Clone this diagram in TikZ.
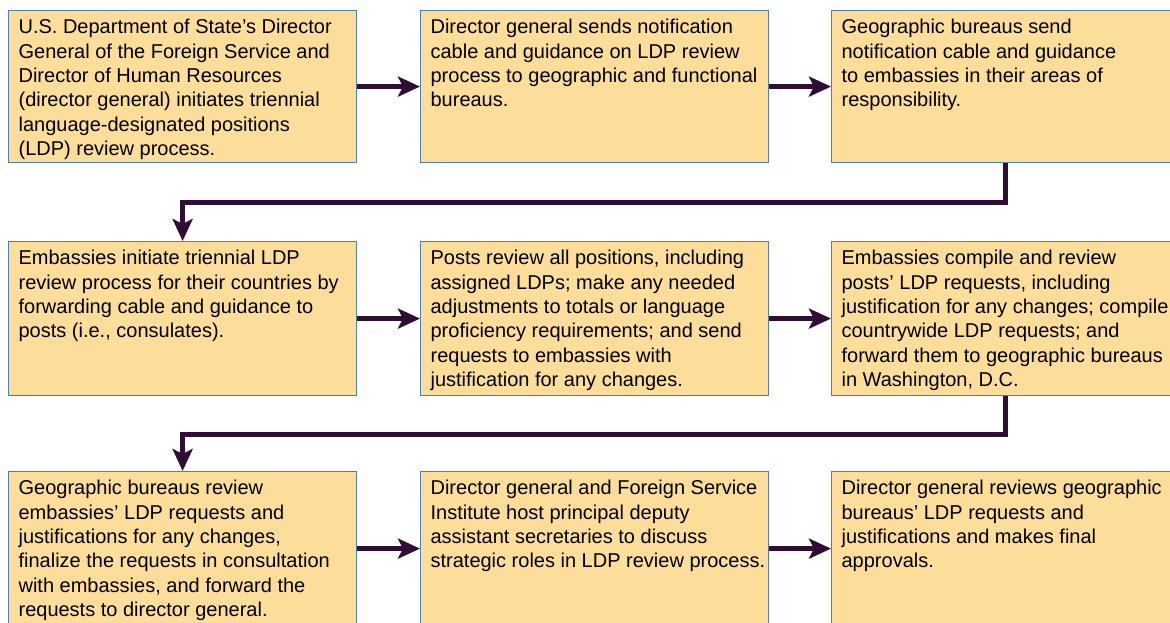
\documentclass[tikz,border=0pt]{standalone}
\usepackage{fontspec}
\setmainfont{Liberation Sans}
\usetikzlibrary{arrows.meta}
\definecolor{boxfill}{HTML}{FCDE9A}
\definecolor{boxline}{HTML}{4F7FAE}
\definecolor{arrowline}{HTML}{2F0D35}
\newcommand{\stagetext}[2]{\parbox[c][#1][t]{348pt}{\raggedright\leftskip=10pt\vspace*{6pt}\strut#2}}
\begin{document}
\begin{tikzpicture}
        [x=1pt, y=-1pt,
        stage/.style={rectangle,draw=boxline,fill=boxfill,line width=1.2pt,inner sep=0pt,
          anchor=north west,minimum width=348pt,font=\fontsize{20pt}{24.4pt}\selectfont},
        arr/.style={-{Stealth[length=22pt,width=20pt,inset=5pt]},line width=4.8pt,draw=arrowline}]
        \useasboundingbox (0,0) rectangle (1170,623);
        \clip (0,0) rectangle (1170,623);
        % first row
        \node (A) at (8,10) [stage] {\stagetext{152pt}{U.S. Department of State’s Director\\General of the Foreign Service and\\Director of Human Resources\\(director general) initiates triennial\\language-designated positions\\(LDP) review process.}};
        \node (B) at (420,10) [stage] {\stagetext{152pt}{Director general sends notification\\cable and guidance on LDP review\\process to geographic and functional\\bureaus.}};
        \node (C) at (831,10) [stage] {\stagetext{152pt}{Geographic bureaus send\\notification cable and guidance\\to embassies in their areas of\\responsibility.}};
        % second row
        \node (D) at (8,241) [stage] {\stagetext{154pt}{Embassies initiate triennial LDP\\review process for their countries by\\forwarding cable and guidance to\\posts (i.e., consulates).}};
        \node (E) at (420,241) [stage] {\stagetext{154pt}{Posts review all positions, including\\assigned LDPs; make any needed\\adjustments to totals or language\\proficiency requirements; and send\\requests to embassies with\\justification for any changes.}};
        \node (F) at (831,241) [stage] {\stagetext{154pt}{Embassies compile and review\\posts’ LDP requests, including\\justification for any changes; compile\\countrywide LDP requests; and\\forward them to geographic bureaus\\in Washington, D.C.}};
        % third row
        \node (G) at (8,471) [stage] {\stagetext{154pt}{Geographic bureaus review\\embassies’ LDP requests and\\justifications for any changes,\\finalize the requests in consultation\\with embassies, and forward the\\requests to director general.}};
        \node (H) at (420,471) [stage] {\stagetext{154pt}{Director general and Foreign Service\\Institute host principal deputy\\assistant secretaries to discuss\\strategic roles in LDP review process.}};
        \node (I) at (831,471) [stage] {\stagetext{154pt}{Director general reviews geographic\\bureaus’ LDP requests and\\justifications and makes final\\approvals.}};
        % flow
        \draw [arr] (A) -- (B);
        \draw [arr] (B) -- (C);
        \draw [arr] (C.south) -- ++(0,39) -| (D.north);
        \draw [arr] (D) -- (E);
        \draw [arr] (E) -- (F);
        \draw [arr] (F.south) -- ++(0,38) -| (G.north);
        \draw [arr] (G) -- (H);
        \draw [arr] (H) -- (I);
      \end{tikzpicture}
\end{document}
